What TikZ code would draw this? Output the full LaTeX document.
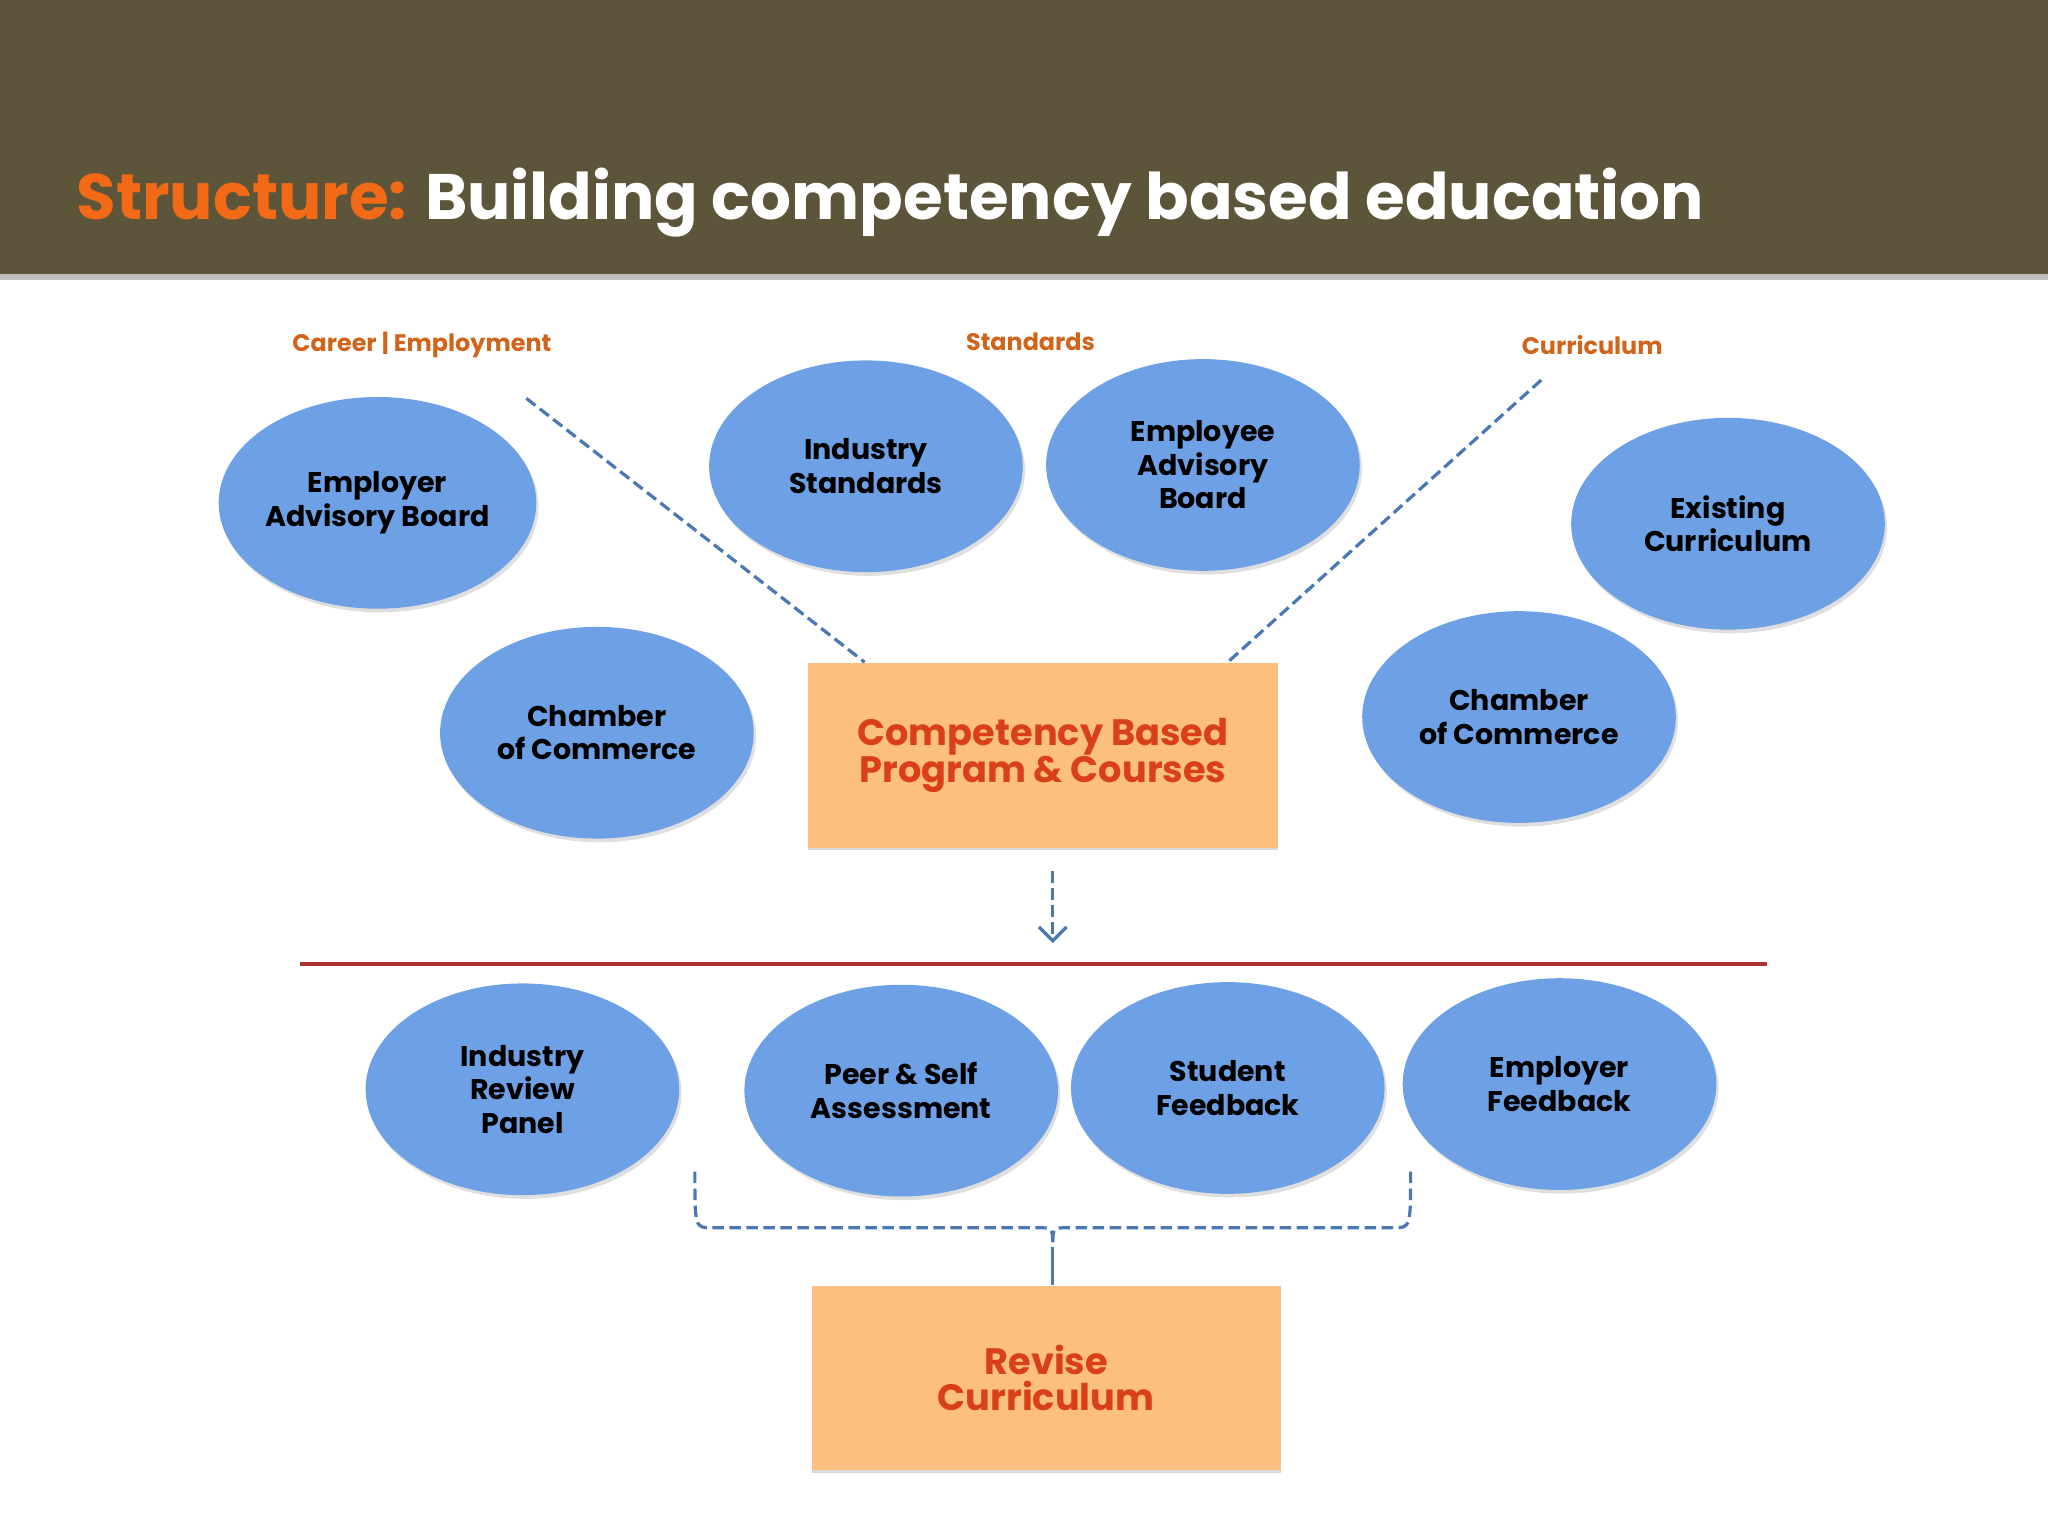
\documentclass[tikz,border=0pt]{standalone}
\usepackage{fontspec}
\setmainfont{Poppins}
\usetikzlibrary{shapes.geometric,arrows.meta,shadows}
\definecolor{band}{HTML}{5C5539}
\definecolor{ell}{HTML}{6DA0E4}
\definecolor{box}{HTML}{FDBF80}
\definecolor{boxtxt}{HTML}{D9401A}
\definecolor{lab}{HTML}{D0641A}
\definecolor{dashcol}{HTML}{4A78B0}
\tikzset{
 oval/.style={ellipse,fill=ell,minimum width=2.4cm,minimum height=1.62cm,inner sep=0pt,align=center,font=\bfseries\fontsize{6.2}{7.3}\selectfont,drop shadow={shadow xshift=0.5pt,shadow yshift=-0.8pt,opacity=0.25}},
 rbox/.style={rectangle,fill=box,minimum width=3.59cm,minimum height=1.41cm,align=center,text=boxtxt,font=\bfseries\fontsize{8}{8}\selectfont,drop shadow={shadow xshift=0pt,shadow yshift=-0.6pt,opacity=0.3}},
 lbl/.style={text=lab,font=\bfseries\fontsize{5.2}{6}\selectfont},
 dl/.style={draw=dashcol,dashed,line width=0.7pt,dash pattern=on 2.5pt off 1.2pt}
}
\begin{document}
\begin{tikzpicture}[x=0.01cm,y=-0.01cm]
\useasboundingbox (0,0) rectangle (1568,1176);
\fill[black!25] (0,208) rectangle (1568,214);
\fill[band] (0,0) rectangle (1568,210);
\node[anchor=west,inner sep=0pt,font=\bfseries\fontsize{14}{16}\selectfont] (title) at (58,155) {\textcolor[HTML]{F26A16}{Structure:} \textcolor{white}{Building competency based education}};
\node[lbl] (l1) at (323,264) {Career | Employment};
\node[lbl] (l2) at (789,262) {Standards};
\node[lbl] (l3) at (1219,264) {Curriculum};
\node[oval] (e1) at (289,385) {Employer\\Advisory Board};
\node[oval] (e2) at (663,357) {Industry\\Standards};
\node[oval] (e3) at (921,356) {Employee\\Advisory\\Board};
\node[oval] (e4) at (1323,401) {Existing\\Curriculum};
\node[oval] (e5) at (457,561) {Chamber\\of Commerce};
\node[oval] (e6) at (1163,549) {Chamber\\of Commerce};
\node[rbox] (cbp) at (798.5,578.5) {Competency Based\\Program \& Courses};
\coordinate (d1) at (403,305);
\coordinate (d2) at (1180,291);
\draw[dl] (d1) -- (662,507);
\draw[dl] (d2) -- (940,507);
\coordinate (a1) at (806,667);
\coordinate (a2) at (806,722);
\draw[dl,-{Straight Barb[length=3pt]}] (a1) -- (a2);
\coordinate (r1) at (230,738);
\coordinate (r2) at (1353,738);
\draw[color=red!60!black!80,line width=1pt] (r1) -- (r2);
\node[oval] (b1) at (400,834) {Industry\\Review\\Panel};
\node[oval] (b2) at (690,835) {Peer \& Self\\Assessment};
\node[oval] (b3) at (940,833) {Student\\Feedback};
\node[oval] (b4) at (1194,830) {Employer\\Feedback};
\node[rbox] (rev) at (801,1055) {Revise\\Curriculum};
\coordinate (k1) at (532,897);
\coordinate (k2) at (1080,897);
\coordinate (km) at (806,955);
\draw[dl] (k1) .. controls (532,940) .. (545,940) -- (795,940) .. controls (806,940) .. (km);
\draw[dl] (k2) .. controls (1080,940) .. (1067,940) -- (817,940) .. controls (806,940) .. (km);
\draw[draw=dashcol,line width=0.7pt] (km) -- (km |- rev.north);
\end{tikzpicture}
\end{document}
